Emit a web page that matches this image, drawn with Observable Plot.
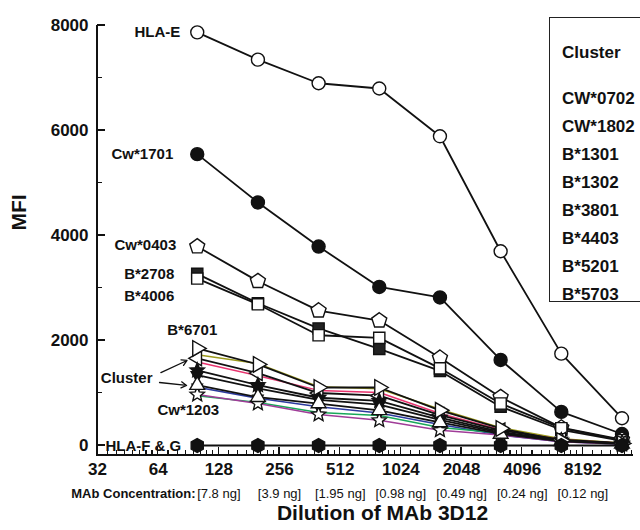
<!DOCTYPE html>
<html><head><meta charset="utf-8">
<script src="https://cdn.jsdelivr.net/npm/d3@7"></script>
<script src="https://cdn.jsdelivr.net/npm/@observablehq/plot@0.6"></script>
<style>
body{margin:0;background:#fff;}
#wrap{position:relative;width:640px;height:530px;overflow:hidden;font-family:"Liberation Sans",Arial,sans-serif;}
#legend{position:absolute;left:549px;top:17px;width:110px;height:285px;border:1.5px solid #222;background:#fff;box-sizing:border-box;}
#legend div{position:absolute;left:12px;font-weight:bold;font-size:17px;color:#111;line-height:1;white-space:nowrap;}
#axes{position:absolute;left:0;top:0;width:640px;height:530px;pointer-events:none;}
#axes div{position:absolute;background:#111;}
</style></head><body>
<div id="wrap"><div id="chart"></div><div id="axes"></div><div id="legend"></div></div>
<script>
// ---- data ----
const dilutions = [100, 200, 400, 800, 1600, 3200, 6400, 12800];
const xTicks = [32, 64, 128, 256, 512, 1024, 2048, 4096, 8192];
const concTicks = [128, 256, 512, 1024, 2048, 4096, 8192];
const concLabels = ["[7.8 ng]", "[3.9 ng]", "[1.95 ng]", "[0.98 ng]", "[0.49 ng]", "[0.24 ng]", "[0.12 ng]"];
const yTicks = [0, 2000, 4000, 6000, 8000];
const yMinorTicks = [1000, 3000, 5000, 7000];
const clusterNames = ["CW*0702", "CW*1802", "B*1301", "B*1302", "B*3801", "B*4403", "B*5201", "B*5703"];

const hlaE   = [7870, 7350, 6900, 6800, 5890, 3700, 1750, 520];
const cw1701 = [5550, 4630, 3790, 3020, 2820, 1630, 640, 220];
const cw0403 = [3790, 3130, 2570, 2380, 1670, 920, 340, 110];
const b2708  = [3270, 2710, 2230, 1840, 1420, 740, 300, 90];
const b4006  = [3180, 2690, 2100, 2050, 1470, 800, 330, 100];
const b6701  = [1850, 1545, 1105, 1105, 670, 325, 95, 40];
const cw0702 = [1730, 1560, 1120, 1080, 690, 340, 130, 50];
const cw1802 = [1660, 1380, 1000, 950, 580, 290, 110, 45];
const b1301  = [1590, 1330, 1050, 1010, 610, 300, 110, 45];
const b1302  = [1430, 1150, 910, 850, 530, 260, 95, 40];
const b3801  = [1340, 1090, 870, 780, 490, 240, 90, 40];
const b4403  = [1150, 920, 800, 670, 440, 220, 80, 35];
const b5201  = [1110, 900, 740, 620, 400, 200, 75, 30];
const b5703  = [950, 820, 630, 570, 345, 240, 80, 25];
const cw1203 = [970, 800, 590, 480, 290, 200, 70, 25];
const hlaFG  = [0, 0, 0, 0, 0, 0, 0, 0];

// ---- symbols ----
function poly(n, rot, k = 1) {
  return {draw(ctx, size) {
    const R = Math.sqrt(size / Math.PI) * k;
    for (let i = 0; i < n; i++) {
      const a = rot + i * 2 * Math.PI / n;
      const px = R * Math.sin(a), py = -R * Math.cos(a);
      i ? ctx.lineTo(px, py) : ctx.moveTo(px, py);
    }
    ctx.closePath();
  }};
}
const starSym = {draw(ctx, size) {
  const R = Math.sqrt(size / Math.PI), r = R * 0.45;
  for (let i = 0; i < 10; i++) {
    const a = i * Math.PI / 5, rr = i % 2 ? r : R;
    const px = rr * Math.sin(a), py = -rr * Math.cos(a);
    i ? ctx.lineTo(px, py) : ctx.moveTo(px, py);
  }
  ctx.closePath();
}};
const squareSym = {draw(ctx, size) {
  const h = Math.sqrt(size / Math.PI) * 0.8;
  ctx.rect(-h, -h, 2 * h, 2 * h);
}};
const circleSym = {draw(ctx, size) {
  const R = Math.sqrt(size / Math.PI);
  ctx.moveTo(R, 0); ctx.arc(0, 0, R, 0, 2 * Math.PI);
}};
const sym = {
  circle: circleSym, square: squareSym, star: starSym,
  pentagon: poly(5, 0, 1.05), hexagon: poly(6, 0),
  triUp: poly(3, 0), triDown: poly(3, Math.PI),
  triRight: poly(3, Math.PI / 2), triLeft: poly(3, -Math.PI / 2)
};

const series = [
  ["cw0702", cw0702], ["b1301", b1301], ["b5201", b5201], ["b5703", b5703], ["cw1203", cw1203],
  ["hlaE", hlaE], ["cw1701", cw1701], ["cw0403", cw0403], ["b2708", b2708], ["b4006", b4006],
  ["cw1802", cw1802], ["b1302", b1302], ["b3801", b3801], ["b4403", b4403], ["b6701", b6701], ["hlaFG", hlaFG]
];
const style = {
  cw0702: {color: "#9c9a1c", w: 1.5},
  b1301:  {color: "#e8336e", w: 1.5},
  b5201:  {color: "#2b3a9e", w: 1.6, symbol: "triDown", fill: "#2b3a9e", r: 6},
  b5703:  {color: "#19a85a", w: 1.5},
  cw1203: {color: "#a03c98", w: 1.5, symbol: "star", fill: "white", r: 7.5},
  hlaE:   {color: "#111", w: 1.8, symbol: "circle", fill: "white", r: 6.5},
  cw1701: {color: "#111", w: 1.8, symbol: "circle", fill: "#111", r: 6.5},
  cw0403: {color: "#111", w: 1.8, symbol: "pentagon", fill: "white", r: 7.5},
  b2708:  {color: "#111", w: 1.8, symbol: "square", fill: "#222", r: 7},
  b4006:  {color: "#111", w: 1.8, symbol: "square", fill: "white", r: 7},
  cw1802: {color: "#111", w: 1.8, symbol: "triLeft", fill: "white", r: 8.5},
  b1302:  {color: "#111", w: 1.8, symbol: "star", fill: "#111", r: 7.5},
  b3801:  {color: "#111", w: 1.8, symbol: "triDown", fill: "#111", r: 7},
  b4403:  {color: "#111", w: 1.8, symbol: "triUp", fill: "white", r: 8.5},
  b6701:  {color: "#111", w: 1.8, symbol: "triRight", fill: "white", r: 9},
  hlaFG:  {color: "#111", w: 2, symbol: "hexagon", fill: "#111", r: 7}
};
const rows = (vals) => dilutions.map((d, i) => ({x: d, y: vals[i]}));

const labels = [
  {text: "HLA-E", vals: hlaE, dx: -17, dy: 0, anchor: "end"},
  {text: "Cw*1701", vals: cw1701, dx: -24, dy: 0, anchor: "end"},
  {text: "Cw*0403", vals: cw0403, dx: -21, dy: -1, anchor: "end"},
  {text: "B*2708", vals: b2708, dx: -23, dy: 0, anchor: "end"},
  {text: "B*4006", vals: b4006, dx: -23, dy: 18, anchor: "end"},
  {text: "B*6701", vals: b6701, dx: -5, dy: -18, anchor: "middle"},
  {text: "Cw*1203", vals: cw1203, dx: -9, dy: 16, anchor: "middle"},
  {text: "HLA-F & G", vals: hlaFG, dx: -16, dy: 1, anchor: "end"}
];
const clusterArrows = [
  {x1: 66, y1: 1390, x2: 89, y2: 1620},
  {x1: 65, y1: 1200, x2: 88.5, y2: 1145}
];
const clusterLabel = [{x: 60, y: 1280, text: "Cluster"}];

const xMinor = [];
for (let b = 32; b <= 8192; b *= 2) for (let k = 1; k < 8; k++) { const v = b * (1 + k / 8); if (v < 14600) xMinor.push(v); }

const xDomain = [32, 14600], yDomain = [-190, 8000];
const W = 640, H = 530, mL = 97, mR = 7, mT = 25, mB = 75;

const marks = [];
for (const [name, vals] of series) {
  const s = style[name];
  marks.push(Plot.line(rows(vals), {x: "x", y: "y", stroke: s.color, strokeWidth: s.w}));
}
for (const [name, vals] of series) {
  const s = style[name];
  if (!s.symbol) continue;
  marks.push(Plot.dot(rows(vals), {x: "x", y: "y", symbol: sym[s.symbol], r: s.r, fill: s.fill, stroke: "#111", strokeWidth: 1.4}));
}
for (const l of labels) {
  marks.push(Plot.text([l], {x: () => dilutions[0], y: d => d.vals[0], text: d => d.text, dx: l.dx, dy: l.dy, textAnchor: l.anchor, fontSize: 15, fontWeight: "bold", fill: "#111"}));
}
marks.push(Plot.text(clusterLabel, {x: "x", y: "y", text: "text", textAnchor: "end", fontSize: 15, fontWeight: "bold", fill: "#111"}));
marks.push(Plot.arrow(clusterArrows, {x1: "x1", y1: "y1", x2: "x2", y2: "y2", stroke: "#111", strokeWidth: 1.3, headLength: 7, bend: false}));
marks.push(Plot.text(xTicks, {x: d => d, frameAnchor: "bottom", text: d => String(d), dy: 19, fontSize: 17, fontWeight: "bold", fill: "#111"}));
marks.push(Plot.text(yTicks, {y: d => d, frameAnchor: "left", text: d => String(d), textAnchor: "end", dx: -9, fontSize: 17, fontWeight: "bold", fill: "#111"}));
marks.push(Plot.text(concTicks.map((t, i) => ({x: t, text: concLabels[i]})), {x: "x", frameAnchor: "bottom", text: "text", dy: 42, fontSize: 13, fill: "#111"}));
marks.push(Plot.text(["MAb Concentration:"], {frameAnchor: "bottom-left", text: d => d, textAnchor: "end", dx: 98, dy: 42, fontSize: 13, fontWeight: "bold", fill: "#111"}));
marks.push(Plot.text(["Dilution of MAb 3D12"], {frameAnchor: "bottom", text: d => d, dx: 17, dy: 64, fontSize: 21, fontWeight: "bold", fill: "#111"}));
marks.push(Plot.text(["MFI"], {frameAnchor: "left", text: d => d, rotate: -90, dx: -78, dy: -10, fontSize: 21, fontWeight: "bold", fill: "#111"}));

const chart = Plot.plot({
  width: W, height: H,
  marginLeft: mL, marginRight: mR, marginTop: mT, marginBottom: mB,
  style: {fontFamily: "'Liberation Sans', Arial, sans-serif", background: "white", color: "#111", overflow: "visible"},
  x: {type: "log", base: 2, domain: xDomain, axis: null},
  y: {domain: yDomain, axis: null},
  marks
});
document.getElementById("chart").appendChild(chart);

// axis lines and inward ticks, positioned through the chart's own scales
let sx, sy;
try { const X = chart.scale("x"), Y = chart.scale("y"); sx = v => X.apply(v); sy = v => Y.apply(v); sx(100); }
catch (e) {
  sx = d3.scaleLog().base(2).domain(xDomain).range([mL, W - mR]);
  sy = d3.scaleLinear().domain(yDomain).range([H - mB, mT]);
}
const axes = document.getElementById("axes");
function bar(left, top, width, height) {
  const d = document.createElement("div");
  Object.assign(d.style, {left: left + "px", top: top + "px", width: width + "px", height: height + "px"});
  axes.appendChild(d);
}
const x0 = sx(xDomain[0]), x1 = sx(xDomain[1]), y0 = sy(yDomain[0]), y1 = sy(yDomain[1]);
bar(x0, y0 - 0.8, x1 - x0, 1.6);
bar(x0 - 0.8, y1, 1.6, y0 - y1 + 0.8);
xTicks.forEach(t => bar(sx(t) - 0.65, y0 - 8, 1.3, 8));
xMinor.forEach(t => bar(sx(t) - 0.55, y0 - 5, 1.1, 5));
yTicks.forEach(t => bar(x0, sy(t) - 0.65, 8, 1.3));
yMinorTicks.forEach(t => bar(x0, sy(t) - 0.55, 5, 1.1));

const leg = document.getElementById("legend");
const legRows = ["Cluster", ...clusterNames];
legRows.forEach((t, i) => {
  const d = document.createElement("div");
  d.textContent = t;
  d.style.top = (i === 0 ? 26 : 72 + (i - 1) * 28) + "px";
  leg.appendChild(d);
});
</script>
</body></html>
